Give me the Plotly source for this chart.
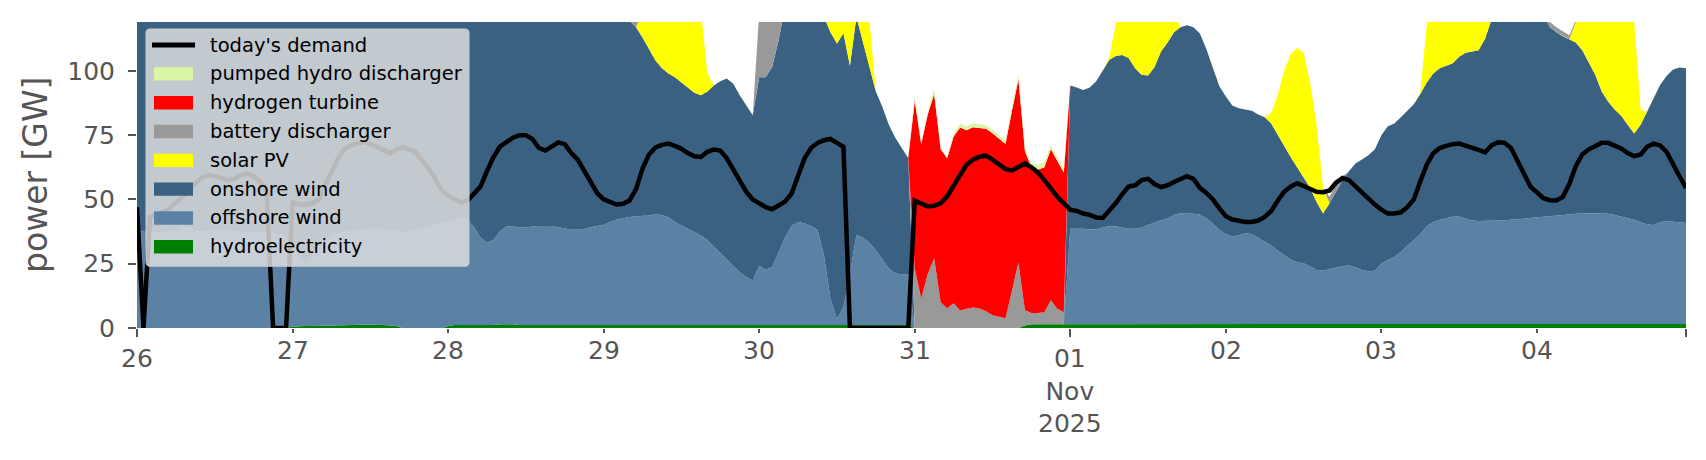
import pandas as pd
import plotly.graph_objects as go

# hourly timestamps, 26 Oct 00:00 .. 4 Nov 23:00
hours = pd.date_range("2025-10-26 00:00", periods=240, freq="h")

# generation by technology [GW], one row per day
hydro = [
    0, 0, 0, 0, 0, 0, 0, 0, 0, 0, 0, 0, 0, 0, 0, 0, 0, 0, 0, 0, 0, 0, 0, 0,
    0.6, 0.8, 0.8, 0.8, 0.9, 1.0, 1.1, 1.2, 1.3, 1.3, 1.3, 1.3, 1.3, 1.3, 1.2, 1.0, 0.8, 0, 0, 0, 0, 0, 0, 0,
    0.8, 1.2, 1.2, 1.2, 1.2, 1.2, 1.2, 1.2, 1.5, 1.5, 1.5, 1.2, 1.2, 1.2, 1.2, 1.2, 1.2, 1.2, 1.2, 1.2, 1.2, 1.2, 1.2, 1.2,
    1.2, 1.2, 1.2, 1.2, 1.2, 1.2, 1.2, 1.2, 1.2, 1.2, 1.2, 1.2, 1.2, 1.2, 1.2, 1.2, 1.2, 1.2, 1.2, 1.2, 1.2, 1.2, 1.2, 1.2,
    1.2, 1.2, 1.2, 1.2, 1.2, 1.2, 1.2, 1.2, 1.2, 1.2, 1.2, 1.2, 1.2, 1.2, 1.2, 1.2, 1.2, 1.2, 1.2, 1.2, 1.2, 1.2, 1.2, 1.2,
    0, 0, 0, 0, 0, 0, 0, 0, 0, 0, 0, 0, 0, 0, 0, 0, 0, 1.0, 1.5, 1.5, 1.5, 1.5, 1.5, 1.5,
    1.6, 1.6, 1.6, 1.6, 1.6, 1.6, 1.6, 1.6, 1.6, 1.6, 1.6, 1.6, 1.6, 1.6, 1.6, 1.6, 1.6, 1.6, 1.6, 1.6, 1.6, 1.6, 1.6, 1.6,
    1.6, 1.6, 1.6, 1.6, 1.6, 1.6, 1.6, 1.6, 1.6, 1.6, 1.6, 1.6, 1.6, 1.6, 1.6, 1.6, 1.6, 1.6, 1.6, 1.6, 1.6, 1.6, 1.6, 1.6,
    1.6, 1.6, 1.6, 1.6, 1.6, 1.6, 1.6, 1.6, 1.6, 1.6, 1.6, 1.6, 1.6, 1.6, 1.6, 1.6, 1.6, 1.6, 1.6, 1.6, 1.6, 1.6, 1.6, 1.6,
    1.6, 1.6, 1.6, 1.6, 1.6, 1.6, 1.6, 1.6, 1.6, 1.6, 1.6, 1.6, 1.6, 1.6, 1.6, 1.6, 1.6, 1.6, 1.6, 1.6, 1.6, 1.6, 1.6, 1.6,
]

offshore = [
    38.5, 37.5, 37, 37, 37, 37.5, 38, 40, 39, 38, 37.5, 37.5, 38, 38, 38, 37.5, 37.5, 37, 37, 37, 37, 37, 36.5, 35,
    31, 26, 23.5, 27, 31, 33, 35, 35.5, 36, 36.5, 36.5, 37, 37, 37, 37, 37, 37, 37, 37.5, 38, 38.5, 39, 40, 40.5,
    40.7, 41, 41, 41, 38, 34, 32, 33, 36, 38, 38, 38, 38, 38.3, 38.5, 38.5, 38.5, 38, 37.5, 37, 37, 37.3, 38, 38.5,
    39, 40, 41, 41.5, 42, 42.2, 42.5, 42.5, 43, 42.7, 41.9, 40, 38.7, 37.5, 36, 34.8, 33, 30.5, 28, 25.5, 23, 20.5, 18.5, 17.3,
    23, 21.5, 22.5, 28, 34, 38.5, 40, 39.5, 38.5, 37, 27, 10, 2.3, 7, 20, 35, 34, 32, 29, 25.5, 22, 20, 19.7, 19.7,
    0, 0, 0, 0, 0, 0, 0, 0, 0, 0, 0, 0, 0, 0, 0, 0, 0, 0, 0, 0, 0, 0, 0, 0,
    37, 37, 37, 36.7, 36.7, 37.5, 38, 38, 37.5, 37, 37, 37.5, 38.5, 39.5, 40.3, 41, 42.3, 43, 43, 42.8, 42.5, 41, 39, 36.5,
    35, 34, 34.5, 35.2, 35, 33.5, 32.3, 30.5, 28.5, 26.8, 25, 24, 23.6, 22.4, 21, 20.7, 21.3, 22, 22.5, 22.7, 22, 21, 20.5, 20.7,
    23.5, 24.8, 26, 28, 30.5, 32.5, 35, 38, 39.5, 40.5, 41.2, 41.7, 41.8, 41, 40.2, 40, 40, 40.1, 40.2, 40.3, 40.5, 40.6, 40.8, 41,
    41.2, 41.5, 41.8, 42, 42.2, 42.5, 42.8, 43, 43, 43, 43, 42.8, 42.3, 41.8, 41.2, 40.5, 39.5, 38.7, 38.5, 39.5, 40, 39.8, 39.5, 39.2,
]

onshore = [
    94, 95, 97, 98, 99, 99, 99, 98, 99, 101, 102, 102, 102, 102, 103, 103, 104, 104, 105, 105, 106, 106, 107, 108,
    110, 112, 114, 112, 110, 108, 106, 106, 105, 105, 104, 104, 103, 103, 102, 102, 101, 101, 100, 99, 98, 97, 96, 95,
    94, 93, 93, 92, 95, 99, 101, 100, 97, 95, 95, 95, 94, 94, 93, 93, 93, 93, 93, 93, 92, 92, 91, 90,
    87.8, 83.8, 80.8, 78.3, 76.3, 73.6, 69.3, 64.8, 59.8, 57.1, 55.9, 56.3, 55.6, 54.8, 54.3, 54.5, 57.8, 62.6, 66.8, 70.3, 70.8, 68.8, 66.8, 64.2,
    73.3, 74.8, 77.8, 82.8, 89.8, 90.3, 90.8, 89.3, 88.3, 85.8, 92.8, 103.8, 107.1, 106.4, 80.8, 84.8, 75.8, 68.8, 61.8, 59.3, 55.8, 52.8, 49.1, 45.1,
    0, 0, 0, 0, 0, 0, 0, 0, 0, 0, 0, 0, 0, 0, 0, 0, 0, 0, 0, 0, 0, 0, 0, 0,
    55.7, 54.9, 54.0, 55.2, 57.7, 60.9, 64.6, 66.2, 67.1, 66.4, 62.4, 59.4, 58.1, 60.4, 65.6, 68.4, 71.1, 72.4, 73.1, 72.6, 70.4, 65.9, 60.4, 55.9,
    53.4, 50.9, 49.4, 48.2, 47.9, 47.9, 48.1, 47.4, 44.9, 42.6, 39.9, 36.9, 33.3, 30.5, 26.4, 22.2, 25.6, 29.4, 33.4, 36.7, 40.4, 42.9, 45.1, 47.2,
    49.9, 52.1, 51.9, 52.4, 52.4, 52.9, 54.4, 55.9, 57.9, 58.9, 59.2, 59.7, 62.1, 64.4, 65.7, 66.4, 70.9, 78.3, 84.2, 88.1, 89.9, 90.8, 90.6, 89.4,
    85.2, 78.9, 73.6, 71.4, 69.7, 68.2, 66.6, 63.4, 58.9, 53.9, 47.4, 43.6, 41.1, 39.1, 36.2, 33.5, 37.9, 43.7, 49.4, 53.4, 56.4, 59.1, 60.2, 60.2,
]

solar = [
    0, 0, 0, 0, 0, 0, 0, 0, 0, 0, 0, 0, 0, 0, 0, 0, 0, 0, 0, 0, 0, 0, 0, 0,
    0, 0, 0, 0, 0, 0, 0, 0, 0, 0, 0, 0, 0, 0, 0, 0, 0, 0, 0, 0, 0, 0, 0, 0,
    0, 0, 0, 0, 0, 0, 0, 0, 0, 0, 0, 0, 0, 0, 0, 0, 0, 0, 0, 0, 0, 0, 0, 0,
    0, 0, 0, 0, 0, 0, 10, 22, 30, 36, 40, 42, 43, 42, 38, 33, 7, 0, 0, 0, 0, 0, 0, 0,
    0, 0, 0, 0, 0, 0, 3, 8, 14, 19, 23, 26, 28, 28, 27, 24, 21, 18, 0, 0, 0, 0, 0, 0,
    0, 0, 0, 0, 0, 0, 0, 0, 0, 0, 0, 0, 0, 0, 0, 0, 0, 0, 0, 0, 0, 0, 0, 0,
    0, 0, 0, 0, 0, 0, 1, 12, 20, 26, 30, 32, 32, 30, 25, 18, 8, 0, 0, 0, 0, 0, 0, 0,
    0, 0, 0, 0, 0, 0, 0, 4, 15.5, 29, 40, 46.5, 48.5, 41, 30, 10, 0, 0, 0, 0, 0, 0, 0, 0,
    0, 0, 0, 0, 0, 0, 0.5, 22, 30, 35, 38, 40, 40, 38, 35, 30, 24, 16, 6, 0, 0, 0, 0, 0,
    0, 0, 0, 0, 0, 0, 8, 16, 25, 32, 38, 42, 44, 45, 45, 44, 6, 0, 0, 0, 0, 0, 0, 0,
]

battery = [
    0, 0, 0, 0, 0, 0, 0, 0, 0, 0, 0, 0, 0, 0, 0, 0, 0, 0, 0, 0, 0, 0, 0, 0,
    0, 0, 0, 0, 0, 0, 0, 0, 0, 0, 0, 0, 0, 0, 0, 0, 0, 0, 0, 0, 0, 0, 0, 0,
    0, 0, 0, 0, 0, 0, 0, 0, 0, 0, 0, 0, 0, 0, 0, 0, 0, 0, 0, 0, 0, 0, 0, 0,
    0, 0, 0, 0, 2, 4, 1, 0, 0, 0, 0, 0, 0, 0, 0, 0, 0, 0, 0, 0, 0, 0, 0, 0,
    25, 23, 20, 10, 0, 0, 0, 0, 0, 0, 0, 0, 0, 0, 0, 0, 0, 0, 0, 0, 0, 0, 0, 0,
    23, 11.5, 21, 27, 10, 7.7, 9.6, 6.8, 7.5, 8, 7.6, 6.5, 5, 4.5, 3.8, 14.5, 25.5, 5.9, 4.3, 4.3, 4.6, 9.3, 6, 4.6,
    0, 0, 0, 0, 0, 0, 0, 0, 0, 0, 0, 0, 0, 0, 0, 0, 0, 0, 0, 0, 0, 0, 0, 0,
    0, 0, 0, 0, 0, 0, 0, 0, 0, 0, 0, 0, 0, 0, 0, 0, 2.5, 3, 1.5, 0, 0, 0, 0, 0,
    0, 0, 0, 0, 0, 0, 0, 0, 0, 0, 0, 0, 0, 0, 0, 0, 0, 0, 0, 0, 0, 0, 0, 0,
    0, 0, 2, 2, 1.8, 1.5, 0.8, 0, 0, 0, 0, 0, 0, 0, 0, 0, 0, 0, 0, 0, 0, 0, 0, 0,
]

hydrogen = [0] * 120 + [
    65.4, 60, 62, 64, 59.5, 58.3, 64.9, 71.2, 69.4, 70.1, 70.2, 71, 70.7, 69.3, 67.8, 70, 71.2, 61.9, 56.7, 55.7, 56.4, 58.7, 57.5, 54.4,
] + [0] * 96

pumped = [0] * 96 + [
    1, 1, 0.5, 0, 0, 0, 0, 0, 0, 0, 0, 0, 0, 0, 0, 0, 0, 0, 0, 0, 0, 0, 0, 0,
    2, 0.5, 1, 2, 0.5, 0.5, 1, 1.5, 1.5, 1.5, 1.5, 1.3, 1.3, 1.2, 1.2, 1.5, 1.8, 1.5, 1.5, 2, 2, 1.5, 1.5, 1.5,
] + [0] * 96

demand = [
    47, 0, 43, 44, 45, 46.5, 48.5, 51, 54, 56.5, 58.5, 59.5, 59, 58.5, 57.5, 58, 59.5, 60, 59, 57, 53, 0, 0, 0,
    49, 48, 48, 48.5, 49.8, 55, 60.5, 66, 69.5, 71, 71.7, 72.5, 71.5, 70.3, 69, 68, 69.5, 70.3, 69.5, 68.3, 65, 62, 58, 53.5,
    51.5, 50, 48.8, 49.5, 52, 55, 61, 66.5, 70.5, 72.5, 74, 75, 75, 73.5, 70, 69, 70.5, 72.2, 71.5, 68, 65.5, 61, 57, 52.5,
    50, 48.8, 48, 48.3, 49.6, 54, 62, 67.5, 70.2, 71.2, 71.7, 70.8, 69.7, 68, 66.8, 66.5, 68.5, 69.4, 69, 66, 61.5, 57, 53, 50,
    48.5, 47, 46.2, 47.5, 49.2, 52.3, 59, 66, 70, 72, 73, 73.5, 72, 70.5, 0, 0, 0, 0, 0, 0, 0, 0, 0, 0,
    49.5, 48.2, 47.3, 47.5, 48.5, 51.2, 55, 59.5, 63.5, 65.5, 66.6, 67, 65.5, 63.5, 61.8, 61.3, 62.5, 64, 62.5, 60.5, 57.5, 54, 51, 48.5,
    46, 45.5, 44.5, 44, 43, 42.8, 45.5, 48.5, 52, 55, 55.5, 57.5, 58, 56, 54.8, 55.5, 56.8, 58, 59, 58, 54.5, 52.5, 50, 46.5,
    43.5, 42.2, 41.6, 41.2, 41.2, 41.8, 43.2, 45.5, 49.5, 53, 55, 56.3, 55.2, 54, 53, 52.8, 53.5, 56.5, 58.3, 57.5, 55, 52.8, 50, 48,
    46, 44.5, 44.5, 45, 47, 50, 57, 63.5, 68, 70, 70.8, 71.5, 71.7, 71, 70.3, 69.3, 68.3, 71, 72.2, 72, 70, 64.5, 60, 55,
    52.5, 50.5, 49.7, 49.6, 51, 56, 63, 67.5, 69.5, 70.8, 72, 72, 70.8, 69.8, 68, 66.8, 67.5, 70.5, 71.7, 71, 68.5, 63.5, 59, 54.5,
]

# x tick positions / labels
major_ticks = ["2025-10-26 00:00", "2025-11-01 00:00", "2025-11-04 23:00"]
major_labels = ["26", "01<br>Nov<br>2025", ""]
minor_ticks = ["2025-10-27", "2025-10-28", "2025-10-29", "2025-10-30", "2025-10-31",
               "2025-11-02", "2025-11-03", "2025-11-04"]
minor_labels = ["27", "28", "29", "30", "31", "02", "03", "04"]

FONT = "DejaVu Sans"
GREY = "#555555"

layers = [
    ("hydroelectricity", hydro, "#008000"),
    ("offshore wind", offshore, "#5b82a5"),
    ("onshore wind", onshore, "#3b6182"),
    ("solar PV", solar, "#ffff00"),
    ("battery discharger", battery, "#999999"),
    ("hydrogen turbine", hydrogen, "#ff0000"),
    ("pumped hydro discharger", pumped, "#d9f5a5"),
]

fig = go.Figure()
for name, vals, col in layers:
    fig.add_trace(go.Scatter(x=hours, y=vals, name=name, stackgroup="gen", mode="lines",
                             line=dict(width=0, color=col), fillcolor=col,
                             hoverinfo="skip", showlegend=False))
fig.add_trace(go.Scatter(x=hours, y=demand, name="today's demand", mode="lines",
                         line=dict(color="black", width=4.5), hoverinfo="skip",
                         showlegend=False))

# plot area in page pixels (the page body adds an 8px offset)
PX0, PX1, PY0, PY1 = 137.0, 1686.0, 22.0, 327.7


def fx(px):
    return (px - PX0) / (PX1 - PX0)


def fy(py):
    return (PY1 - py) / (PY1 - PY0)


annots = []
for t, lab in zip(minor_ticks, minor_labels):
    annots.append(dict(x=t, y=0, xref="x", yref="paper", text=lab, showarrow=False,
                       xanchor="center", yanchor="top", yshift=-6,
                       font=dict(family=FONT, size=25, color=GREY)))
for t, lab in zip(major_ticks, major_labels):
    if lab:
        annots.append(dict(x=t, y=0, xref="x", yref="paper", text=lab, showarrow=False,
                           xanchor="center", yanchor="top", yshift=-14,
                           font=dict(family=FONT, size=25, color=GREY)))
annots.append(dict(x=fx(35), y=0.5, xref="paper", yref="paper", text="power [GW]",
                   showarrow=False, textangle=-90, xanchor="center", yanchor="middle",
                   font=dict(family=FONT, size=33, color=GREY)))

# legend drawn by hand so the swatches are matplotlib-like rectangles
shapes = []
lx0, lx1, ly0, ly1, r = 146, 469, 29, 266, 4
box = (f"M{fx(lx0 + r)},{fy(ly0)} L{fx(lx1 - r)},{fy(ly0)} Q{fx(lx1)},{fy(ly0)} {fx(lx1)},{fy(ly0 + r)} "
       f"L{fx(lx1)},{fy(ly1 - r)} Q{fx(lx1)},{fy(ly1)} {fx(lx1 - r)},{fy(ly1)} "
       f"L{fx(lx0 + r)},{fy(ly1)} Q{fx(lx0)},{fy(ly1)} {fx(lx0)},{fy(ly1 - r)} "
       f"L{fx(lx0)},{fy(ly0 + r)} Q{fx(lx0)},{fy(ly0)} {fx(lx0 + r)},{fy(ly0)} Z")
shapes.append(dict(type="path", path=box, xref="paper", yref="paper", layer="above",
                   fillcolor="rgba(225,225,225,0.82)", line=dict(color="#cccccc", width=1)))

legend_items = [("today's demand", None)] + [(n, c) for n, _, c in reversed(layers)]
for i, (name, col) in enumerate(legend_items):
    cy = 45 + 28.8 * i
    if col is None:
        shapes.append(dict(type="line", xref="paper", yref="paper", layer="above",
                           x0=fx(152), x1=fx(195), y0=fy(cy), y1=fy(cy),
                           line=dict(color="black", width=5)))
    else:
        shapes.append(dict(type="rect", xref="paper", yref="paper", layer="above",
                           x0=fx(154), x1=fx(193), y0=fy(cy + 6.7), y1=fy(cy - 6.7),
                           fillcolor=col, line=dict(width=0)))
    annots.append(dict(x=fx(208), y=fy(cy), xref="paper", yref="paper", text=name,
                       showarrow=False, xanchor="left", yanchor="middle",
                       font=dict(family=FONT, size=19.5, color="black")))

fig.update_layout(
    width=1698, height=452,
    margin=dict(l=129, r=20, t=14, b=132),
    paper_bgcolor="white", plot_bgcolor="white",
    font=dict(family=FONT, color=GREY),
    showlegend=False,
    xaxis=dict(type="date", range=[hours[0], hours[-1]], showgrid=False, zeroline=False,
               showline=False, tickmode="array", tickvals=major_ticks, showticklabels=False,
               ticks="outside", ticklen=8, tickwidth=1.5, tickcolor=GREY,
               minor=dict(tickmode="array", tickvals=minor_ticks, ticks="outside",
                          ticklen=4, tickwidth=1.5, tickcolor=GREY, showgrid=False)),
    yaxis=dict(range=[0, 119], tickvals=[0, 25, 50, 75, 100], showgrid=False, zeroline=False,
               showline=False, ticks="outside", ticklen=8, tickwidth=1.5, tickcolor=GREY,
               tickfont=dict(family=FONT, size=25, color=GREY), ticklabelstandoff=8),
    shapes=shapes,
    annotations=annots,
)

fig.write_html("out.html")
